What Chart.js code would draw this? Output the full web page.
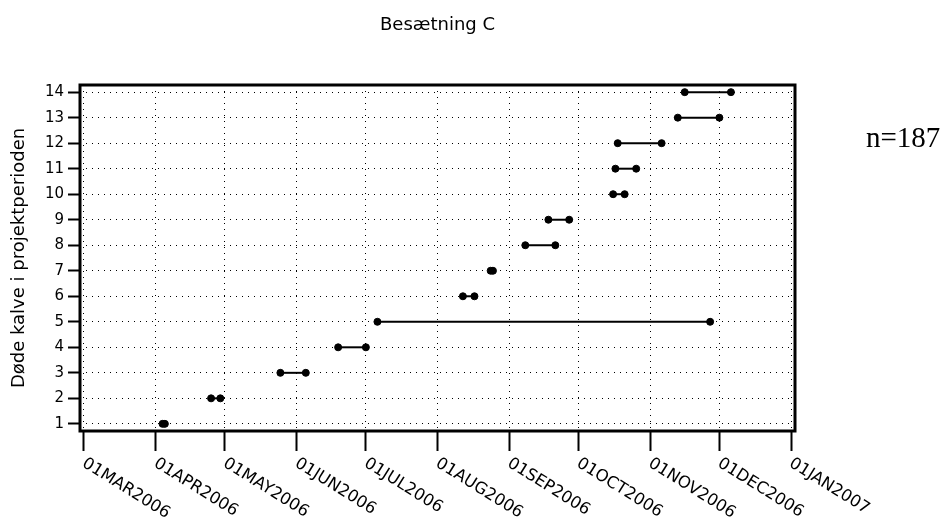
<!DOCTYPE html>
<html>
<head>
<meta charset="utf-8">
<title>Besætning C</title>
<script src="https://cdn.jsdelivr.net/npm/chart.js@4.4.1/dist/chart.umd.min.js"></script>
<style>
  html, body { margin: 0; padding: 0; background: #fff; }
  #wrap { width: 946px; height: 523px; }
</style>
</head>
<body>
<div id="wrap"><canvas id="calfChart" width="946" height="523"></canvas></div>
<script>
// one row per dead calf: first and last registration date
const calfRows   = [1, 2, 3, 4, 5, 6, 7, 8, 9, 10, 11, 12, 13, 14];
const startDates = ['2006-04-04', '2006-04-25', '2006-05-25', '2006-06-19', '2006-07-06', '2006-08-12', '2006-08-24',
                    '2006-09-08', '2006-09-18', '2006-10-16', '2006-10-17', '2006-10-18', '2006-11-13', '2006-11-16'];
const endDates   = ['2006-04-05', '2006-04-29', '2006-06-05', '2006-07-01', '2006-11-27', '2006-08-17', '2006-08-25',
                    '2006-09-21', '2006-09-27', '2006-10-21', '2006-10-26', '2006-11-06', '2006-12-01', '2006-12-06'];

const monthTicks  = ['2006-03-01', '2006-04-01', '2006-05-01', '2006-06-01', '2006-07-01', '2006-08-01',
                     '2006-09-01', '2006-10-01', '2006-11-01', '2006-12-01', '2007-01-01'];
const monthLabels = ['01MAR2006', '01APR2006', '01MAY2006', '01JUN2006', '01JUL2006', '01AUG2006',
                     '01SEP2006', '01OCT2006', '01NOV2006', '01DEC2006', '01JAN2007'];
const yTicks = [1, 2, 3, 4, 5, 6, 7, 8, 9, 10, 11, 12, 13, 14];

const chartTitle = 'Besætning C';
const yTitle = 'Døde kalve i projektperioden';
const herdSize = 'n=187';

const DAY = 24 * 3600 * 1000;
const FONT = 'DejaVu Sans';

function toTime(s) {
    const [y, m, d] = s.split('-').map(Number);
    return Date.UTC(y, m - 1, d);
}

// frame, heading, slanted month labels and the herd size note
const decorations = {
    id: 'decorations',
    afterDraw(chart) {
        const { ctx, chartArea: area } = chart;
        const x = chart.scales.x;
        ctx.save();
        ctx.strokeStyle = '#000';
        ctx.lineWidth = 3;
        ctx.strokeRect(area.left, area.top, area.right - area.left, area.bottom - area.top);

        ctx.fillStyle = '#000';
        ctx.font = '18px "' + FONT + '"';
        ctx.textAlign = 'center';
        ctx.textBaseline = 'middle';
        ctx.fillText(chartTitle, (area.left + area.right) / 2, 25);

        ctx.font = '16.5px "' + FONT + '"';
        ctx.textAlign = 'left';
        ctx.textBaseline = 'top';
        x.ticks.forEach((t, i) => {
            const px = x.getPixelForValue(t.value);
            ctx.save();
            ctx.translate(px + 4, x.top + 24);
            ctx.rotate(32 * Math.PI / 180);
            ctx.fillText(monthLabels[i], 0, 0);
            ctx.restore();
        });

        ctx.font = '29px "Liberation Serif"';
        ctx.textBaseline = 'alphabetic';
        ctx.fillText(herdSize, 866, 147);
        ctx.restore();
    }
};

const datasets = calfRows.map((row, i) => ({
    data: [
        { x: toTime(startDates[i]), y: row },
        { x: toTime(endDates[i]), y: row }
    ],
    borderColor: '#000',
    borderWidth: 2,
    pointRadius: 3.5,
    pointBorderWidth: 1,
    pointBorderColor: '#000',
    pointBackgroundColor: '#000'
}));

new Chart(document.getElementById('calfChart').getContext('2d'), {
    type: 'line',
    data: { datasets: datasets },
    options: {
        responsive: false,
        animation: false,
        layout: { padding: { top: 85, right: 151, left: 0, bottom: 0 } },
        plugins: {
            legend: { display: false },
            tooltip: { enabled: false }
        },
        scales: {
            x: {
                type: 'linear',
                min: toTime('2006-03-01') - 1.73 * DAY,
                max: toTime('2007-01-01') + 1.73 * DAY,
                afterFit(scale) { scale.height = 92; },
                afterBuildTicks(scale) {
                    scale.ticks = monthTicks.map(d => ({ value: toTime(d) }));
                },
                ticks: { display: false },
                grid: { color: '#000', lineWidth: 1, tickLength: 20, tickWidth: 2, tickColor: '#000' },
                border: { display: false, dash: [1, 5] }
            },
            y: {
                type: 'linear',
                min: 0.72,
                max: 14.28,
                afterFit(scale) { scale.width = 80; },
                afterBuildTicks(scale) {
                    scale.ticks = yTicks.map(v => ({ value: v }));
                },
                ticks: { color: '#000', font: { family: FONT, size: 15 }, padding: 4 },
                grid: { color: '#000', lineWidth: 1, tickLength: 12, tickWidth: 2, tickColor: '#000' },
                border: { display: false, dash: [1, 5] },
                title: {
                    display: true,
                    text: yTitle,
                    color: '#000',
                    font: { family: FONT, size: 18 },
                    padding: { top: 9, bottom: 0 }
                }
            }
        }
    },
    plugins: [decorations]
});
</script>
</body>
</html>
